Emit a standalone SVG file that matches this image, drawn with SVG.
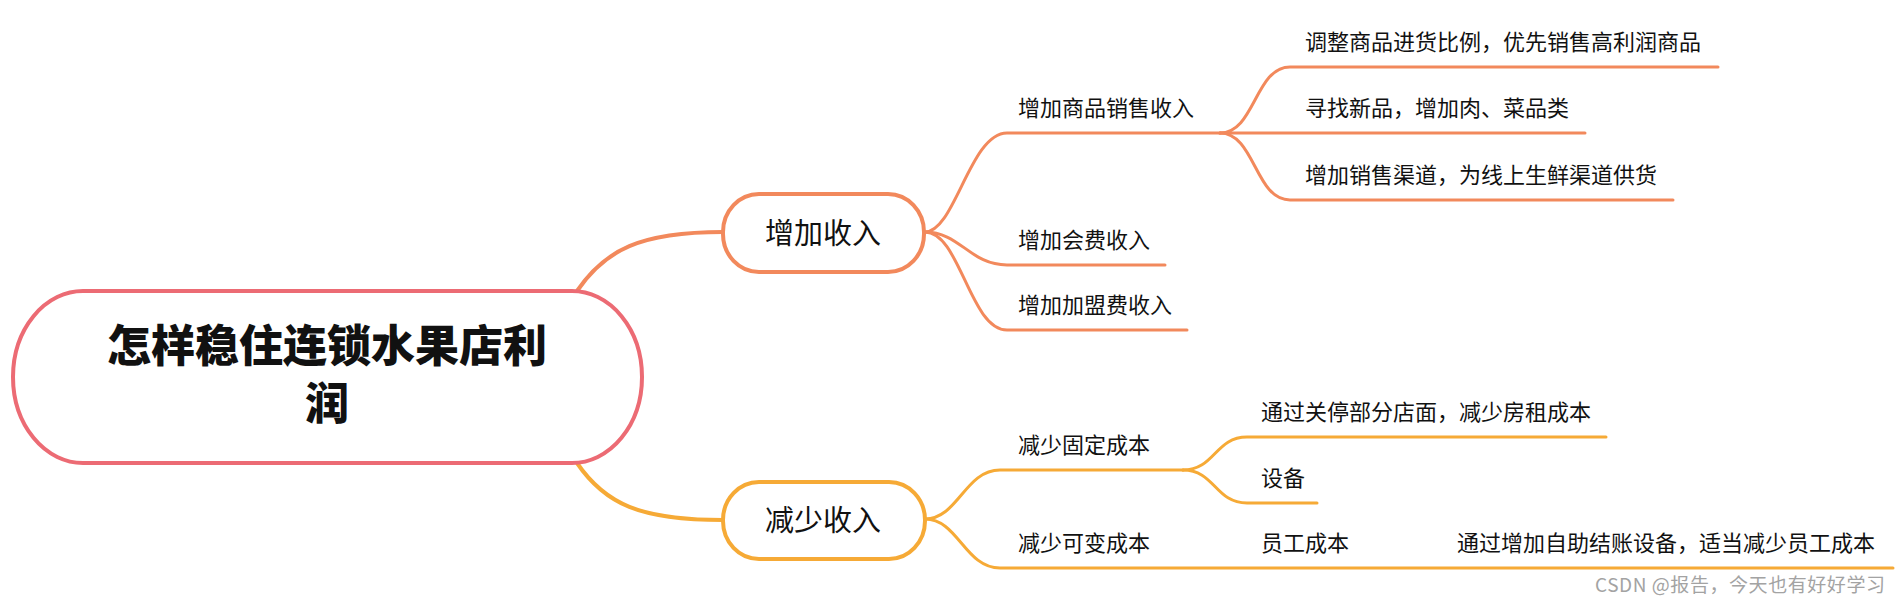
<svg xmlns="http://www.w3.org/2000/svg" width="1900" height="603" viewBox="0 0 1900 603">
<style>
text{font-family:"Noto Sans CJK SC","Noto Sans",sans-serif;fill:#111}
.root{font-size:44px;font-weight:900;text-anchor:middle}
.l1{font-size:29px;text-anchor:middle}
.l2{font-size:22px}
.wm{font-size:19px;fill:#a3a3a3}
.c{fill:none;stroke-linecap:round}
.o{stroke:#F2895C}
.y{stroke:#F6AA36}
.w4{stroke-width:4}
.w3{stroke-width:3}
</style>
<rect width="1900" height="603" fill="#fff"/>
<g id="connectors">
<path class="c o w4" d="M577,291 C605,250 640,232 723,232"/>
<path class="c y w4" d="M577,463 C605,504 640,520 723,520"/>
<path class="c o w3" d="M925,232 C955,232 970,133 1007,133 H1220"/>
<path class="c o w3" d="M925,232 C960,232 970,265 1007,265 H1165"/>
<path class="c o w3" d="M925,232 C960,232 970,330 1007,330 H1187"/>
<path class="c o w3" d="M1220,133 C1255,133 1255,67 1290,67 H1718"/>
<path class="c o w3" d="M1220,133 H1585"/>
<path class="c o w3" d="M1220,133 C1255,133 1255,200 1290,200 H1673"/>
<path class="c y w3" d="M925,519 C958,519 965,470 1000,470 H1183"/>
<path class="c y w3" d="M925,519 C958,519 965,568 1000,568 H1893"/>
<path class="c y w3" d="M1183,470 C1215,470 1215,437 1247,437 H1606"/>
<path class="c y w3" d="M1183,470 C1215,470 1215,503 1247,503 H1317"/>
</g>
<g id="root">
<rect x="13" y="291" width="629" height="172" rx="70" ry="86" fill="#fff" stroke="#EC6B74" stroke-width="4"/>
<text class="root" x="327" y="362">怎样稳住连锁水果店利</text>
<text class="root" x="327" y="420">润</text>
</g>
<g id="n-increase">
<rect x="723" y="194" width="201" height="78" rx="36" ry="38" fill="#fff" stroke="#F2895C" stroke-width="4"/>
<text class="l1" x="823" y="244">增加收入</text>
</g>
<g id="n-decrease">
<rect x="723" y="482" width="202" height="77" rx="36" ry="38" fill="#fff" stroke="#F6AA36" stroke-width="4"/>
<text class="l1" x="823" y="531">减少收入</text>
</g>
<g id="n-sales"><text class="l2" x="1018" y="116">增加商品销售收入</text></g>
<g id="n-member"><text class="l2" x="1018" y="248">增加会费收入</text></g>
<g id="n-franchise"><text class="l2" x="1018" y="313">增加加盟费收入</text></g>
<g id="n-ratio"><text class="l2" x="1305" y="50">调整商品进货比例，优先销售高利润商品</text></g>
<g id="n-new"><text class="l2" x="1305" y="116">寻找新品，增加肉、菜品类</text></g>
<g id="n-channel"><text class="l2" x="1305" y="183">增加销售渠道，为线上生鲜渠道供货</text></g>
<g id="n-fixed"><text class="l2" x="1018" y="453">减少固定成本</text></g>
<g id="n-close"><text class="l2" x="1261" y="420">通过关停部分店面，减少房租成本</text></g>
<g id="n-equip"><text class="l2" x="1261" y="486">设备</text></g>
<g id="n-variable"><text class="l2" x="1018" y="551">减少可变成本</text></g>
<g id="n-staff"><text class="l2" x="1261" y="551">员工成本</text></g>
<g id="n-self"><text class="l2" x="1457" y="551">通过增加自助结账设备，适当减少员工成本</text></g>
<text class="wm" x="1595" y="592" textLength="290" lengthAdjust="spacing">CSDN @报告，今天也有好好学习</text>
</svg>
